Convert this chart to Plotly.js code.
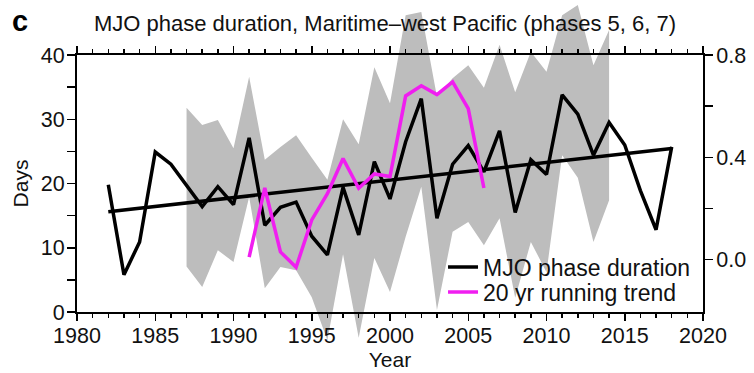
<!DOCTYPE html>
<html>
<head>
<meta charset="utf-8">
<script src="https://cdn.plot.ly/plotly-3.0.1.min.js"></script>
<style>
  html, body { margin: 0; padding: 0; background: #fff; }
  #chart { width: 754px; height: 373px; }
</style>
</head>
<body>
<div id="chart"></div>
<script>
// Annual MJO phase duration (days), phases 5-7, 1982-2018
const years = [1982, 1983, 1984, 1985, 1986, 1987, 1988, 1989, 1990, 1991,
               1992, 1993, 1994, 1995, 1996, 1997, 1998, 1999, 2000, 2001,
               2002, 2003, 2004, 2005, 2006, 2007, 2008, 2009, 2010, 2011,
               2012, 2013, 2014, 2015, 2016, 2017, 2018];
const durationDays = [19.8, 5.8, 10.9, 24.9, 23.0, 19.8, 16.4, 19.5, 16.7, 27.1,
                      13.5, 16.3, 17.1, 11.8, 8.9, 19.4, 12.0, 23.4, 17.6, 26.5,
                      33.2, 14.6, 23.0, 25.9, 21.8, 28.2, 15.5, 23.7, 21.4, 33.8,
                      30.8, 24.4, 29.5, 26.0, 18.9, 12.8, 25.7];

// Spread band (days), 1987-2014
const bandYears = [1987, 1988, 1989, 1990, 1991, 1992, 1993, 1994, 1995, 1996,
                   1997, 1998, 1999, 2000, 2001, 2002, 2003, 2004, 2005, 2006,
                   2007, 2008, 2009, 2010, 2011, 2012, 2013, 2014];
const bandUpper = [31.8, 29.1, 29.9, 25.5, 36.6, 23.7, 25.7, 27.5, 24.0, 20.6,
                   30.0, 26.1, 38.1, 32.5, 46.2, 46.7, 33.5, 36.4, 38.4, 34.9,
                   41.6, 34.2, 40.5, 37.4, 46.2, 47.8, 38.4, 43.9];
const bandLower = [7.1, 3.9, 9.6, 7.8, 17.9, 3.7, 7.0, 6.5, 2.3, -4.4,
                   9.0, -4.0, 8.4, 3.1, 11.7, 19.5, 0.3, 12.5, 14.0, 10.4,
                   14.6, 2.2, 10.9, 6.2, 24.4, 20.9, 10.9, 17.4];

// 20-year running trend (right axis), centred years 1991-2006
const trendYears = [1991, 1992, 1993, 1994, 1995, 1996, 1997, 1998,
                    1999, 2000, 2001, 2002, 2003, 2004, 2005, 2006];
const runningTrend = [0.01, 0.28, 0.03, -0.03, 0.155, 0.258, 0.395, 0.279,
                      0.335, 0.325, 0.64, 0.68, 0.645, 0.695, 0.59, 0.28];

// Tick labels
const xTickVals = [1980, 1985, 1990, 1995, 2000, 2005, 2010, 2015, 2020];
const yLeftTickVals = [0, 5, 10, 15, 20, 25, 30, 35, 40];
const yLeftTickText = ['0', '', '10', '', '20', '', '30', '', '40'];
const yRightTickVals = [0, 0.2, 0.4, 0.6, 0.8];
const yRightTickText = ['0.0', '', '0.4', '', '0.8'];

// Least-squares linear fit of the duration series
function linearFit(xs, ys) {
  const n = xs.length;
  const mx = xs.reduce((a, b) => a + b, 0) / n;
  const my = ys.reduce((a, b) => a + b, 0) / n;
  let sxy = 0, sxx = 0;
  for (let i = 0; i < n; i++) {
    sxy += (xs[i] - mx) * (ys[i] - my);
    sxx += (xs[i] - mx) * (xs[i] - mx);
  }
  const slope = sxy / sxx;
  return x => my + slope * (x - mx);
}
const fit = linearFit(years, durationDays);
const fitX = [years[0], years[years.length - 1]];
const fitY = fitX.map(fit);

// Geometry: the main frame occupies part of the full-height plot area;
// the band lives on a full-height axis with the same days-per-pixel scale
// so it can spill past the frame.
const W = 754, H = 373;
const frameTop = 55, frameBottom = 312;
const dayRange = [0, 40];
const daysPerPx = (dayRange[1] - dayRange[0]) / (frameBottom - frameTop);
const bandRange = [dayRange[0] - (H - frameBottom) * daysPerPx,
                   dayRange[1] + frameTop * daysPerPx];
const mainDomain = [(H - frameBottom) / H, (H - frameTop) / H];

const font = 'Liberation Sans, Arial, Helvetica, sans-serif';
const ink = '#111111';
const tickFont = { family: font, size: 21.5, color: ink };
const axisTitleFont = { family: font, size: 21, color: ink };
const legendFont = { family: font, size: 23, color: ink };

const traces = [
  {
    x: bandYears.concat(bandYears.slice().reverse()),
    y: bandUpper.concat(bandLower.slice().reverse()),
    xaxis: 'x', yaxis: 'y',
    type: 'scatter', mode: 'lines', fill: 'toself',
    fillcolor: '#bdbdbd', line: { width: 0, color: '#bdbdbd' },
    showlegend: false, hoverinfo: 'skip'
  },
  {
    x: fitX, y: fitY,
    xaxis: 'x', yaxis: 'y2',
    type: 'scatter', mode: 'lines',
    line: { color: '#000000', width: 3.5 },
    showlegend: false
  },
  {
    x: years, y: durationDays,
    xaxis: 'x', yaxis: 'y2',
    type: 'scatter', mode: 'lines', name: 'MJO phase duration',
    line: { color: '#000000', width: 3.5 },
    legend: 'legend'
  },
  {
    x: trendYears, y: runningTrend,
    xaxis: 'x', yaxis: 'y3',
    type: 'scatter', mode: 'lines', name: '20 yr running trend',
    line: { color: '#f01ef0', width: 3.5 },
    legend: 'legend2'
  }
];

function legendBox(rowCentre) {
  return {
    x: 0.5847, y: 1 - rowCentre / H, xanchor: 'left', yanchor: 'middle',
    bgcolor: 'rgba(0,0,0,0)', borderwidth: 0,
    font: legendFont, itemwidth: 30, tracegroupgap: 0
  };
}

const layout = {
  width: W, height: H,
  margin: { l: 77, r: 51, t: 0, b: 0, pad: 0 },
  paper_bgcolor: '#ffffff',
  plot_bgcolor: 'rgba(0,0,0,0)',
  font: { family: font, size: 20, color: ink },
  title: {
    text: 'MJO phase duration, Maritime\u2013west Pacific (phases 5, 6, 7)',
    font: { family: font, size: 22, color: ink },
    x: 371 / W, xanchor: 'center', xref: 'paper',
    y: 1 - 23 / H, yanchor: 'middle', yref: 'container'
  },
  showlegend: true,
  legend: legendBox(267),
  legend2: legendBox(292),
  xaxis: {
    domain: [0, 1], anchor: 'y2', range: [1980, 2020],
    tickvals: xTickVals, ticks: 'outside', ticklen: 7, tickwidth: 1.5, tickcolor: '#000',
    minor: { dtick: 1, ticks: 'outside', ticklen: 4, tickwidth: 1.5, tickcolor: '#000' },
    showline: true, linecolor: '#000', linewidth: 2, mirror: 'ticks',
    showgrid: false, zeroline: false,
    tickfont: tickFont, ticklabelstandoff: -4,
    title: { text: 'Year', font: axisTitleFont, standoff: 6 }
  },
  yaxis: {
    domain: [0, 1], anchor: 'x', range: bandRange,
    visible: false, showgrid: false, zeroline: false, fixedrange: true
  },
  yaxis2: {
    domain: mainDomain, anchor: 'x', range: dayRange,
    tickvals: yLeftTickVals, ticktext: yLeftTickText,
    ticks: 'outside', ticklen: 8, tickwidth: 1.5, tickcolor: '#000',
    showline: true, linecolor: '#000', linewidth: 2,
    showgrid: false, zeroline: false,
    tickfont: tickFont, ticklabelstandoff: -2,
    title: { text: 'Days', font: axisTitleFont, standoff: 6 }
  },
  yaxis3: {
    overlaying: 'y2', side: 'right', anchor: 'x', range: [-0.205, 0.8],
    tickvals: yRightTickVals, ticktext: yRightTickText,
    ticks: 'outside', ticklen: 8, tickwidth: 1.5, tickcolor: '#000',
    showline: true, linecolor: '#000', linewidth: 2,
    showgrid: false, zeroline: false,
    tickfont: tickFont, ticklabelstandoff: -1
  },
  annotations: [
    {
      text: '<b>c</b>', xref: 'paper', yref: 'paper',
      x: (20 - 77) / (W - 77 - 51), y: 1 - 21 / H,
      xanchor: 'center', yanchor: 'middle', showarrow: false,
      font: { family: font, size: 29, color: '#000' }
    }
  ]
};

Plotly.newPlot('chart', traces, layout, { displayModeBar: false, staticPlot: true });
</script>
</body>
</html>
